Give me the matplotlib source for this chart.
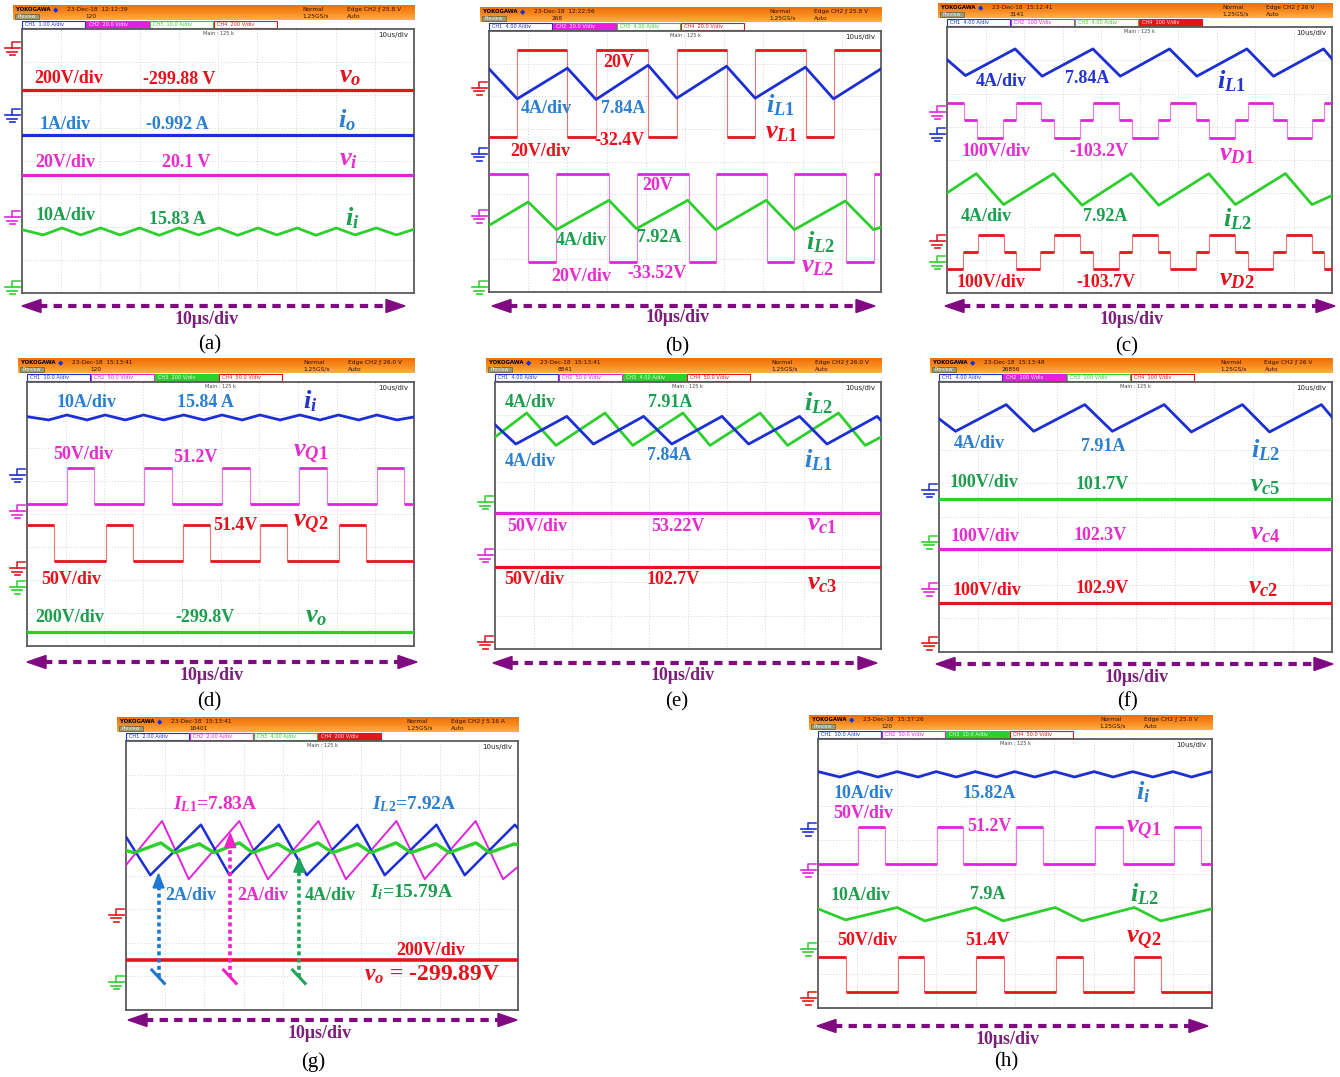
import numpy as np
import matplotlib
matplotlib.use("Agg")
import matplotlib.pyplot as plt
from matplotlib.patches import Rectangle, Polygon
from matplotlib.colors import LinearSegmentedColormap

# ---------------------------------------------------------------------------
# Waveform data: time in microseconds (0..100, 10 us/div), level in screen
# divisions (0 = bottom graticule line, 8 = top graticule line).
# ---------------------------------------------------------------------------

# (a) output / input quantities
A_VO_LEVEL = 6.16
A_IO_LEVEL = 4.80
A_VI_LEVEL = 3.57
A_II_T = [0, 5.4, 10.2, 15.0, 20.1, 25.0, 30.0, 35.0, 40.0, 45.0, 50.2,
          55.0, 60.2, 65.0, 70.2, 75.0, 80.2, 85.0, 90.4, 95.5, 100]
A_II_V = [1.92, 1.76, 1.97, 1.76, 1.97, 1.76, 1.97, 1.75, 1.97, 1.76, 1.97,
          1.75, 1.97, 1.76, 1.97, 1.75, 1.97, 1.76, 1.97, 1.76, 1.93]

# (b) inductor voltages and currents
B_VL1_EDGES = [7.2, 19.9, 27.3, 40.6, 47.9, 60.6, 67.9, 80.9, 87.9]
B_VL1_LEVELS = [4.75, 7.43, 4.75, 7.43, 4.75, 7.43, 4.75, 7.43, 4.75, 7.43]
B_IL1_T = [0, 7.2, 20.0, 27.3, 40.6, 47.9, 60.6, 67.9, 80.7, 87.9, 100]
B_IL1_V = [6.84, 5.92, 6.86, 5.90, 6.95, 5.94, 6.92, 5.94, 6.89, 5.92, 6.84]
B_VL2_EDGES = [10.0, 17.2, 30.7, 37.8, 50.9, 57.8, 70.9, 77.9, 91.1, 98.3]
B_VL2_LEVELS = [3.63, 0.92, 3.63, 0.92, 3.63, 0.92, 3.63, 0.92, 3.63, 0.92, 3.63]
B_IL2_T = [0, 10.0, 17.2, 30.6, 37.6, 50.7, 57.8, 70.7, 77.9, 90.9, 98.1, 100]
B_IL2_V = [2.04, 2.76, 1.91, 2.81, 1.94, 2.81, 1.91, 2.81, 1.91, 2.79, 1.91, 1.99]

# (c) inductor currents and diode voltages (three-level steps)
C_IL1_T = [0, 4.8, 17.7, 24.7, 37.9, 45.0, 57.8, 64.9, 77.9, 84.8, 97.8, 100]
C_IL1_V = [7.02, 6.54, 7.34, 6.52, 7.34, 6.52, 7.34, 6.52, 7.34, 6.52, 7.34, 7.04]
C_VD1_EDGES = [4.3, 7.8, 14.5, 18.0, 24.4, 27.9, 34.6, 37.9, 44.8, 48.1,
               54.7, 58.0, 64.8, 68.0, 74.9, 78.1, 84.8, 88.3, 94.8, 98.0]
C_VD1_LEVELS = [5.71, 5.19, 4.66, 5.19, 5.71, 5.19, 4.66, 5.19, 5.71, 5.19, 4.66,
                5.19, 5.71, 5.19, 4.66, 5.19, 5.71, 5.19, 4.66, 5.19, 5.71]
C_IL2_T = [0, 7.6, 14.7, 27.7, 35.1, 47.8, 55.0, 68.0, 74.9, 87.9, 94.8, 100]
C_IL2_V = [3.01, 3.59, 2.66, 3.59, 2.64, 3.59, 2.64, 3.59, 2.66, 3.59, 2.66, 2.93]
C_VD2_EDGES = [4.2, 8.0, 14.7, 18.0, 24.2, 27.9, 34.6, 37.9, 44.6, 48.1,
               54.7, 58.0, 64.8, 68.0, 74.9, 78.1, 84.8, 88.1, 94.8, 98.0]
C_VD2_LEVELS = [0.72, 1.23, 1.75, 1.23, 0.72, 1.23, 1.75, 1.23, 0.72, 1.23, 1.75,
                1.23, 0.72, 1.23, 1.75, 1.23, 0.72, 1.23, 1.75, 1.23, 0.72]

# (d) input current, switch voltages, output voltage
D_II_T = [0, 5.6, 10.3, 15.5, 20.2, 25.4, 30.1, 35.3, 40.5, 45.7, 50.4,
          55.6, 60.2, 65.4, 70.5, 75.7, 80.5, 85.7, 90.4, 95.6, 100]
D_II_V = [6.95, 6.85, 7.00, 6.85, 7.00, 6.85, 7.00, 6.85, 7.00, 6.85, 7.00,
          6.85, 7.00, 6.85, 7.00, 6.85, 7.00, 6.85, 7.00, 6.85, 6.94]
D_VQ1_EDGES = [10.4, 17.3, 30.2, 37.4, 50.3, 57.5, 70.4, 77.5, 90.4, 97.5]
D_VQ1_LEVELS = [4.29, 5.38, 4.29, 5.38, 4.29, 5.38, 4.29, 5.38, 4.29, 5.38, 4.29]
D_VQ2_EDGES = [7.0, 20.3, 27.4, 40.3, 47.4, 60.3, 67.2, 80.5, 87.5]
D_VQ2_LEVELS = [3.66, 2.58, 3.66, 2.58, 3.66, 2.58, 3.66, 2.58, 3.66, 2.58]
D_VO_LEVEL = 0.41

# (e) interleaved inductor currents and capacitor voltages
E_IL2_T = [0, 8.2, 15.8, 28.5, 35.7, 48.7, 55.7, 68.7, 75.8, 89.0, 95.9, 100]
E_IL2_V = [6.35, 7.07, 6.10, 7.07, 6.10, 7.07, 6.10, 7.07, 6.10, 7.07, 6.10, 6.35]
E_IL1_T = [0, 5.4, 18.6, 25.5, 38.5, 45.8, 58.8, 65.7, 78.9, 86.0, 99.0, 100]
E_IL1_V = [6.72, 6.14, 6.97, 6.14, 6.97, 6.14, 6.97, 6.14, 6.97, 6.14, 6.97, 6.85]
E_VC1_LEVEL = 4.07
E_VC3_LEVEL = 2.47

# (f) inductor current and capacitor voltages
F_IL2_T = [0, 4.2, 17.1, 24.1, 37.1, 44.1, 57.3, 64.2, 77.2, 84.1, 97.3, 100]
F_IL2_V = [6.91, 6.54, 7.33, 6.54, 7.33, 6.54, 7.33, 6.52, 7.33, 6.52, 7.33, 6.96]
F_VC5_LEVEL = 4.54
F_VC4_LEVEL = 3.04
F_VC2_LEVEL = 1.45

# (g) phase currents, input current, output voltage
G_IL2_T = [0, 6.2, 19.1, 26.4, 39.0, 46.1, 59.0, 66.0, 79.2, 86.4, 99.2, 100]
G_IL2_V = [5.15, 4.01, 5.51, 4.01, 5.51, 4.01, 5.51, 4.01, 5.51, 4.01, 5.51, 5.40]
G_IL1_T = [0, 9.2, 16.0, 28.9, 36.2, 49.1, 56.1, 69.0, 76.2, 89.2, 96.2, 100]
G_IL1_V = [4.31, 5.62, 3.89, 5.62, 3.89, 5.62, 3.89, 5.62, 3.89, 5.62, 3.89, 4.26]
G_II_T = [0, 2.1, 8.9, 12.4, 18.7, 22.5, 28.9, 32.3, 38.7, 42.5, 48.9,
          52.7, 59.1, 62.5, 68.9, 72.7, 79.1, 82.5, 89.3, 92.7, 99.1, 100]
G_II_V = [4.74, 4.68, 4.97, 4.68, 4.94, 4.68, 4.97, 4.68, 4.94, 4.68, 4.97,
          4.68, 4.94, 4.68, 4.97, 4.68, 4.94, 4.68, 4.97, 4.68, 4.94, 4.90]
G_VO_LEVEL = 1.49

# (h) input current, switch voltages, inductor current
H_II_T = [0, 5.5, 10.2, 15.2, 20.1, 25.4, 30.0, 35.1, 39.9, 45.3, 49.9,
          55.0, 60.1, 65.1, 70.1, 74.9, 79.9, 85.0, 90.1, 94.8, 99.8, 100]
H_II_V = [7.03, 6.87, 7.03, 6.87, 7.03, 6.87, 7.03, 6.87, 7.03, 6.87, 7.03,
          6.87, 7.03, 6.87, 7.03, 6.87, 7.03, 6.87, 7.03, 6.87, 7.03, 7.02]
H_VQ1_EDGES = [10.2, 17.1, 30.2, 36.9, 50.3, 57.0, 70.3, 77.4, 90.3, 97.2]
H_VQ1_LEVELS = [4.28, 5.37, 4.28, 5.37, 4.28, 5.37, 4.28, 5.37, 4.28, 5.37, 4.28]
H_IL2_T = [0, 7.0, 20.1, 27.1, 40.0, 47.0, 60.2, 67.1, 80.3, 87.0, 100]
H_IL2_V = [2.95, 2.62, 2.99, 2.59, 2.99, 2.59, 2.99, 2.59, 2.99, 2.59, 2.95]
H_VQ2_EDGES = [7.1, 20.3, 27.0, 40.2, 47.1, 60.3, 67.2, 80.3, 87.1]
H_VQ2_LEVELS = [1.53, 0.48, 1.53, 0.48, 1.53, 0.48, 1.53, 0.48, 1.53, 0.48]

# ---------------------------------------------------------------------------
# Styling
# ---------------------------------------------------------------------------
plt.rcParams["mathtext.fontset"] = "custom"
plt.rcParams["mathtext.rm"] = "Liberation Serif:bold"
plt.rcParams["mathtext.it"] = "Liberation Serif:italic:bold"
plt.rcParams["mathtext.bf"] = "Liberation Serif:bold"

RED, BLUE, MAG, GRN = "#e3141b", "#1c2fd2", "#e024dc", "#2dcf2d"
T_RED, T_BLUE, T_NAVY = "#e8101a", "#2a7fd0", "#2233cf"
T_MAG, T_GRN = "#e62ccd", "#1c9e4e"
PURPLE, PURPLE_T = "#800a82", "#7a1f7a"
CH_COLORS = [BLUE, MAG, GRN, RED]
SERIF = "Liberation Serif"

W, H, DPI = 1340, 1077, 100
fig = plt.figure(figsize=(W / DPI, H / DPI), dpi=DPI)
fig.patch.set_facecolor("white")
over = fig.add_axes([0, 0, 1, 1])
over.axis("off")

# screen rectangles in figure pixels: x0, x1, y0(top), y1(bottom)
SCREENS = {
    "a": (22, 414, 29, 293), "b": (489, 881, 31, 292), "c": (947, 1332, 27, 293),
    "d": (27, 414, 382, 646), "e": (495, 881, 382, 649), "f": (939, 1332, 382, 652),
    "g": (126, 518, 741, 1010), "h": (818, 1212, 739, 1008),
}

HEADER_CMAP = LinearSegmentedColormap.from_list("hdr", ["#f07008", "#f78a1e", "#ffb048"])


def screen_axes(key):
    x0, x1, y0, y1 = SCREENS[key]
    ax = fig.add_axes([x0 / W, 1 - y1 / H, (x1 - x0) / W, (y1 - y0) / H])
    ax.set_xlim(0, 100)
    ax.set_ylim(0, 8)
    ax.set_xticks([])
    ax.set_yticks([])
    for s in ax.spines.values():
        s.set_color("#5a5a5a")
        s.set_linewidth(1.3)
    for gx in range(10, 100, 10):
        ax.axvline(gx, color="#d4d4d4", lw=0.7, ls=(0, (1, 2)), zorder=0)
    for gy in range(1, 8):
        ax.axhline(gy, color="#d4d4d4", lw=0.7, ls=(0, (1, 2)), zorder=0)
    ax.text(50, 7.93, "Main : 125 k", fontsize=3.6, ha="center", va="top", color="#444")
    ax.text(98.5, 7.9, "10us/div", fontsize=5, ha="right", va="top", color="#222")
    return ax


def header(key, stamp, count, trig, scales, active):
    x0, x1, y0, y1 = SCREENS[key]
    hx0, hx1 = x0 - 9, x1 + 1
    by1 = y0 - 0.5
    by0 = by1 - 8
    hy1, hy0 = by0, by0 - 15
    grad = np.linspace(0, 1, 32)[:, None]
    over.imshow(grad, extent=(hx0, hx1, hy1, hy0), cmap=HEADER_CMAP,
                aspect="auto", zorder=1, interpolation="bilinear")
    ym = hy0 + 4.2
    yl = hy0 + 10.8
    over.text(hx0 + 3, ym, "YOKOGAWA", fontsize=3.9, weight="bold", va="center", zorder=3)
    over.text(hx0 + 40, ym, "\u25c6", fontsize=5.0, color="#1030e0", va="center", zorder=3)
    over.text(hx0 + 54, ym, stamp, fontsize=4.2, va="center", color="#301000", zorder=3)
    over.text(hx0 + 72, yl, count, fontsize=4.2, va="center", color="#301000", zorder=3)
    over.add_patch(Rectangle((hx0 + 2, hy0 + 8.6), 24, 5.2, facecolor="#9c9a72",
                             edgecolor="#5c5a40", lw=0.5, zorder=2))
    over.text(hx0 + 14, yl, "Preview", fontsize=3.4, ha="center", va="center",
              color="#eeeeee", zorder=3)
    wd = hx1 - hx0
    over.text(hx0 + 0.72 * wd, ym, "Normal", fontsize=4.2, va="center", color="#301000", zorder=3)
    over.text(hx0 + 0.72 * wd, yl, "1.25GS/s", fontsize=4.2, va="center", color="#301000", zorder=3)
    over.text(hx0 + 0.83 * wd, ym, trig, fontsize=4.2, va="center", color="#301000", zorder=3)
    over.text(hx0 + 0.83 * wd, yl, "Auto", fontsize=4.2, va="center", color="#301000", zorder=3)
    for i, sc in enumerate(scales):
        bx = x0 + i * 64
        c = CH_COLORS[i]
        filled = (i == active)
        over.add_patch(Rectangle((bx, by0), 63, 7.5, facecolor=c if filled else "white",
                                 edgecolor=c, lw=0.8, zorder=2))
        over.text(bx + 3, by0 + 3.9, "CH%d  %s/div" % (i + 1, sc), fontsize=3.6,
                  va="center", color="#f4f4f4" if filled else c, zorder=3)


def ground(key, level, color):
    x0, x1, y0, y1 = SCREENS[key]
    yp = y1 - level * (y1 - y0) / 8.0
    xs = x0 - 10
    over.plot([xs + 8, xs, xs], [yp - 6, yp - 6, yp], color=color, lw=1.1, zorder=3)
    for dy, hw in ((0, 7.5), (3.5, 5.0), (7.0, 2.5)):
        over.plot([xs - hw, xs + hw], [yp + dy, yp + dy], color=color, lw=1.2, zorder=3)


def time_arrow(xa, xb, y, txt_xy, cap, cap_xy):
    over.plot([xa + 17, xb - 17], [y, y], color=PURPLE, lw=3.0,
              ls=(0, (2.0, 1.5)), solid_capstyle="butt", zorder=3)
    over.add_patch(Polygon([[xa, y], [xa + 19, y - 6.5], [xa + 19, y + 6.5]],
                           closed=True, color=PURPLE, zorder=3))
    over.add_patch(Polygon([[xb, y], [xb - 19, y - 6.5], [xb - 19, y + 6.5]],
                           closed=True, color=PURPLE, zorder=3))
    over.text(txt_xy[0], txt_xy[1], "10\u03bcs/div", color=PURPLE_T, fontsize=13,
              weight="bold", family=SERIF, ha="center", va="center")
    over.text(cap_xy[0], cap_xy[1], cap, fontsize=15, family=SERIF, ha="center", va="center")


def tri(ax, t, v, color, lw=2.0):
    ax.plot(t, v, color=color, lw=lw, solid_joinstyle="round", zorder=4)


def flat(ax, level, color, lw=2.3):
    ax.plot([0, 100], [level, level], color=color, lw=lw, zorder=4)


def square(ax, edges, levels, color):
    bounds = [0] + list(edges) + [100]
    ax.hlines(levels, bounds[:-1], bounds[1:], colors=color, lw=2.0, zorder=4)
    for e, a, b in zip(edges, levels[:-1], levels[1:]):
        ax.vlines(e, min(a, b), max(a, b), colors=color, lw=0.8, alpha=0.6, zorder=4)


def labels(ax, items):
    for t, lv, s, c, kind in items:
        size = {"n": 13, "m": 19, "g": 14, "big": 17}[kind]
        ax.text(t, lv, s, color=c, fontsize=size, weight="bold", family=SERIF,
                ha="center", va="center", zorder=5)


# ---------------------------------------------------------------------------
# (a)
ax = screen_axes("a")
header("a", "23-Dec-18  12:12:39", "120", "Edge CH2 \u0192 25.8 V",
       ["1.00 A", "20.0 V", "10.0 A", "200 V"], 1)
flat(ax, A_VO_LEVEL, RED)
flat(ax, A_IO_LEVEL, BLUE)
flat(ax, A_VI_LEVEL, MAG)
tri(ax, A_II_T, A_II_V, GRN)
labels(ax, [
    (11.9, 6.49, "200V/div", T_RED, "n"), (40.0, 6.46, "-299.88 V", T_RED, "n"),
    (83.8, 6.55, r"$v_o$", T_RED, "m"),
    (11.1, 5.10, "1A/div", T_BLUE, "n"), (39.7, 5.10, "-0.992 A", T_BLUE, "n"),
    (82.9, 5.25, r"$i_o$", T_BLUE, "m"),
    (11.1, 3.94, "20V/div", T_MAG, "n"), (41.8, 3.94, "20.1 V", T_MAG, "n"),
    (83.3, 4.05, r"$v_i$", T_MAG, "m"),
    (11.1, 2.34, "10A/div", T_GRN, "n"), (39.7, 2.24, "15.83 A", T_GRN, "n"),
    (84.2, 2.27, r"$i_i$", T_GRN, "m"),
])
for lv, c in ((7.42, RED), (5.39, BLUE), (2.30, MAG), (0.18, GRN)):
    ground("a", lv, c)
time_arrow(22, 405, 306, (207, 319), "(a)", (210, 345))

# (b)
ax = screen_axes("b")
header("b", "23-Dec-18  12:22:56", "268", "Edge CH2 \u0192 25.8 V",
       ["4.00 A", "20.0 V", "4.00 A", "20.0 V"], 1)
square(ax, B_VL1_EDGES, B_VL1_LEVELS, RED)
tri(ax, B_IL1_T, B_IL1_V, BLUE)
square(ax, B_VL2_EDGES, B_VL2_LEVELS, MAG)
tri(ax, B_IL2_T, B_IL2_V, GRN)
labels(ax, [
    (33.0, 7.02, "20V", T_RED, "n"),
    (14.5, 5.62, "4A/div", T_BLUE, "n"), (34.2, 5.62, "7.84A", T_BLUE, "n"),
    (74.3, 5.72, r"$i_{\mathit{L1}}$", T_BLUE, "m"),
    (13.1, 4.32, "20V/div", T_RED, "n"), (33.4, 4.65, "-32.4V", T_RED, "n"),
    (74.7, 4.90, r"$v_{\mathit{L1}}$", T_RED, "m"),
    (43.1, 3.27, "20V", T_MAG, "n"),
    (23.6, 1.58, "4A/div", T_GRN, "n"), (43.4, 1.66, "7.92A", T_GRN, "n"),
    (84.5, 1.53, r"$i_{\mathit{L2}}$", T_GRN, "m"),
    (23.6, 0.48, "20V/div", T_MAG, "n"), (42.9, 0.56, "-33.52V", T_MAG, "n"),
    (83.8, 0.77, r"$v_{\mathit{L2}}$", T_MAG, "m"),
])
for lv, c in ((6.26, RED), (4.23, BLUE), (2.33, MAG), (0.15, GRN)):
    ground("b", lv, c)
time_arrow(492, 875, 306, (678, 317), "(b)", (677, 347))

# (c)
ax = screen_axes("c")
header("c", "23-Dec-18  15:12:41", "3141", "Edge CH2 \u0192 26 V",
       ["4.00 A", "100 V", "4.00 A", "100 V"], 3)
tri(ax, C_IL1_T, C_IL1_V, BLUE)
square(ax, C_VD1_EDGES, C_VD1_LEVELS, MAG)
tri(ax, C_IL2_T, C_IL2_V, GRN)
square(ax, C_VD2_EDGES, C_VD2_LEVELS, RED)
labels(ax, [
    (14.0, 6.37, "4A/div", T_NAVY, "n"), (36.5, 6.44, "7.84A", T_NAVY, "n"),
    (74.0, 6.37, r"$i_{\mathit{L1}}$", T_NAVY, "m"),
    (12.6, 4.26, "100V/div", T_MAG, "n"), (39.4, 4.26, "-103.2V", T_MAG, "n"),
    (75.3, 4.16, r"$v_{\mathit{D1}}$", T_MAG, "m"),
    (10.2, 2.31, "4A/div", T_GRN, "n"), (41.0, 2.29, "7.92A", T_GRN, "n"),
    (75.5, 2.21, r"$i_{\mathit{L2}}$", T_GRN, "m"),
    (11.3, 0.32, "100V/div", T_RED, "n"), (41.2, 0.32, "-103.7V", T_RED, "n"),
    (75.3, 0.40, r"$v_{\mathit{D2}}$", T_RED, "m"),
])
for lv, c in ((5.44, MAG), (4.78, BLUE), (1.56, RED), (0.93, GRN)):
    ground("c", lv, c)
time_arrow(945, 1335, 306, (1132, 320), "(c)", (1127, 347))

# (d)
ax = screen_axes("d")
header("d", "23-Dec-18  15:13:41", "120", "Edge CH2 \u0192 26.0 V",
       ["10.0 A", "50.0 V", "200 V", "50.0 V"], 2)
tri(ax, D_II_T, D_II_V, BLUE)
square(ax, D_VQ1_EDGES, D_VQ1_LEVELS, MAG)
square(ax, D_VQ2_EDGES, D_VQ2_LEVELS, RED)
flat(ax, D_VO_LEVEL, GRN)
labels(ax, [
    (15.4, 7.38, "10A/div", T_BLUE, "n"), (46.2, 7.38, "15.84 A", T_BLUE, "n"),
    (73.3, 7.42, r"$i_i$", T_NAVY, "m"),
    (14.5, 5.81, "50V/div", T_MAG, "n"), (43.6, 5.71, "51.2V", T_MAG, "n"),
    (73.2, 5.83, r"$v_{\mathit{Q1}}$", T_MAG, "m"),
    (53.9, 3.66, "51.4V", T_RED, "n"),
    (73.2, 3.71, r"$v_{\mathit{Q2}}$", T_RED, "m"),
    (11.5, 2.02, "50V/div", T_RED, "n"),
    (11.1, 0.86, "200V/div", T_GRN, "n"), (46.0, 0.86, "-299.8V", T_GRN, "n"),
    (74.7, 0.88, r"$v_o$", T_GRN, "m"),
])
for lv, c in ((5.18, BLUE), (4.09, MAG), (2.36, RED), (1.79, GRN)):
    ground("d", lv, c)
time_arrow(27, 417, 662, (212, 675), "(d)", (209, 702))

# (e)
ax = screen_axes("e")
header("e", "23-Dec-18  15:13:41", "8841", "Edge CH2 \u0192 26.0 V",
       ["4.00 A", "50.0 V", "4.00 A", "50.0 V"], 2)
tri(ax, E_IL2_T, E_IL2_V, GRN)
tri(ax, E_IL1_T, E_IL1_V, BLUE)
flat(ax, E_VC1_LEVEL, MAG)
flat(ax, E_VC3_LEVEL, RED)
labels(ax, [
    (9.2, 7.40, "4A/div", T_GRN, "n"), (45.5, 7.40, "7.91A", T_GRN, "n"),
    (83.8, 7.37, r"$i_{\mathit{L2}}$", T_GRN, "m"),
    (9.2, 5.62, "4A/div", T_BLUE, "n"), (45.1, 5.79, "7.84A", T_BLUE, "n"),
    (83.8, 5.67, r"$i_{\mathit{L1}}$", T_BLUE, "m"),
    (11.0, 3.67, "50V/div", T_MAG, "n"), (47.5, 3.67, "53.22V", T_MAG, "n"),
    (84.7, 3.72, r"$v_{\mathit{c1}}$", T_MAG, "m"),
    (10.1, 2.07, "50V/div", T_RED, "n"), (46.2, 2.07, "102.7V", T_RED, "n"),
    (84.7, 1.97, r"$v_{\mathit{c3}}$", T_RED, "m"),
])
for lv, c in ((4.40, GRN), (2.81, MAG), (0.21, RED)):
    ground("e", lv, c)
time_arrow(493, 877, 663, (683, 676), "(e)", (677, 702))

# (f)
ax = screen_axes("f")
header("f", "23-Dec-18  15:13:48", "26856", "Edge CH2 \u0192 26 V",
       ["4.00 A", "100 V", "100 V", "100 V"], 1)
tri(ax, F_IL2_T, F_IL2_V, BLUE)
flat(ax, F_VC5_LEVEL, GRN)
flat(ax, F_VC4_LEVEL, MAG)
flat(ax, F_VC2_LEVEL, RED)
labels(ax, [
    (10.3, 6.19, "4A/div", T_BLUE, "n"), (41.9, 6.09, "7.91A", T_BLUE, "n"),
    (83.0, 5.98, r"$i_{\mathit{L2}}$", T_BLUE, "m"),
    (11.4, 5.01, "100V/div", T_GRN, "n"), (41.5, 4.96, "101.7V", T_GRN, "n"),
    (83.0, 4.94, r"$v_{\mathit{c5}}$", T_GRN, "m"),
    (11.7, 3.43, "100V/div", T_MAG, "n"), (41.1, 3.46, "102.3V", T_MAG, "n"),
    (83.0, 3.51, r"$v_{\mathit{c4}}$", T_MAG, "m"),
    (12.2, 1.83, "100V/div", T_RED, "n"), (41.5, 1.88, "102.9V", T_RED, "n"),
    (82.6, 1.91, r"$v_{\mathit{c2}}$", T_RED, "m"),
])
for lv, c in ((4.80, BLUE), (3.26, GRN), (1.87, MAG), (0.27, RED)):
    ground("f", lv, c)
time_arrow(936, 1333, 664, (1137, 677), "(f)", (1127, 702))

# (g)
ax = screen_axes("g")
header("g", "23-Dec-18  15:13:41", "16401", "Edge CH2 \u0192 5.16 A",
       ["2.00 A", "2.00 A", "4.00 A", "200 V"], 3)
tri(ax, G_IL1_T, G_IL1_V, MAG, lw=1.4)
tri(ax, G_IL2_T, G_IL2_V, BLUE, lw=1.8)
tri(ax, G_II_T, G_II_V, GRN, lw=2.4)
flat(ax, G_VO_LEVEL, RED, lw=2.6)
# channel pointers: dotted shafts with a head at the trace and a tick at the foot
for t, tip, c in ((8.3, 4.05, "#1f78d0"), (26.6, 5.25, "#ee22c8"), (44.2, 4.52, "#1ea55a")):
    ax.plot([t, t], [0.98, tip - 0.38], color=c, lw=2.6, ls=(0, (1.1, 0.9)), zorder=6)
    ax.add_patch(Polygon([[t - 1.4, tip - 0.42], [t + 1.4, tip - 0.42], [t, tip]],
                         closed=True, color=c, zorder=6))
    ax.plot([t - 1.7, t + 1.5], [1.19, 0.79], color=c, lw=2.2, zorder=6)
labels(ax, [
    (22.9, 6.11, r"$I_{\mathit{L1}}$=7.83A", T_MAG, "g"),
    (73.4, 6.11, r"$I_{\mathit{L2}}$=7.92A", T_BLUE, "g"),
    (16.6, 3.40, "2A/div", T_BLUE, "n"), (35.0, 3.40, "2A/div", T_MAG, "n"),
    (52.0, 3.40, "4A/div", T_GRN, "n"),
    (72.9, 3.50, r"$I_i$=15.79A", T_GRN, "g"),
    (77.7, 1.78, "200V/div", T_RED, "n"),
    (78.1, 1.04, r"$v_o$ = -299.89V", T_RED, "big"),
])
for lv, c in ((2.83, RED), (0.83, GRN)):
    ground("g", lv, c)
time_arrow(128, 517, 1020, (320, 1033), "(g)", (313, 1062))

# (h)
ax = screen_axes("h")
header("h", "23-Dec-18  15:37:26", "120", "Edge CH2 \u0192 25.0 V",
       ["10.0 A", "50.0 V", "10.0 A", "50.0 V"], 2)
tri(ax, H_II_T, H_II_V, BLUE)
square(ax, H_VQ1_EDGES, H_VQ1_LEVELS, MAG)
tri(ax, H_IL2_T, H_IL2_V, GRN)
square(ax, H_VQ2_EDGES, H_VQ2_LEVELS, RED)
labels(ax, [
    (11.5, 6.39, "10A/div", T_BLUE, "n"), (43.4, 6.39, "15.82A", T_BLUE, "n"),
    (82.6, 6.42, r"$i_i$", T_BLUE, "m"),
    (11.5, 5.79, "50V/div", T_MAG, "n"), (43.4, 5.40, "51.2V", T_MAG, "n"),
    (82.6, 5.30, r"$v_{\mathit{Q1}}$", T_MAG, "m"),
    (10.7, 3.35, "10A/div", T_GRN, "n"), (43.0, 3.37, "7.9A", T_GRN, "n"),
    (82.8, 3.37, r"$i_{\mathit{L2}}$", T_GRN, "m"),
    (12.4, 2.00, "50V/div", T_RED, "n"), (43.0, 2.00, "51.4V", T_RED, "n"),
    (82.6, 2.03, r"$v_{\mathit{Q2}}$", T_RED, "m"),
])
for lv, c in ((5.33, BLUE), (4.11, MAG), (1.76, GRN), (0.30, RED)):
    ground("h", lv, c)
time_arrow(817, 1208, 1026, (1008, 1039), "(h)", (1006, 1062))

over.set_xlim(0, W)
over.set_ylim(H, 0)
fig.savefig("out.png", dpi=DPI, facecolor="white")
